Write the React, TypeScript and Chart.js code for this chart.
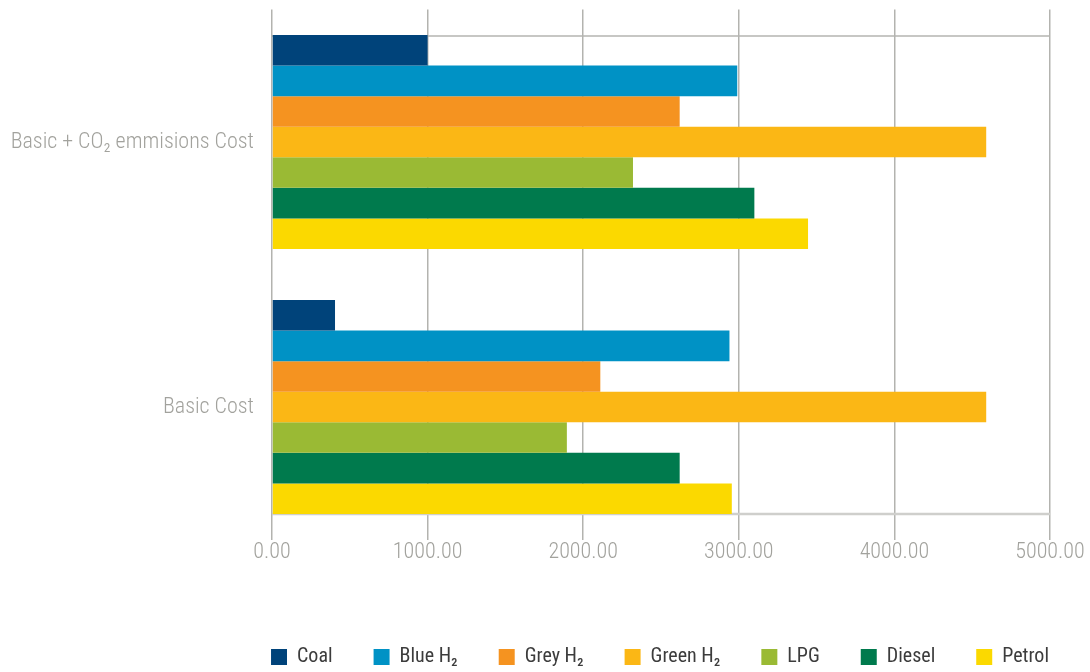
import React, { useEffect, useRef } from "react";
import { Chart, registerables } from "chart.js";

Chart.register(...registerables);

const categories = ["Basic + CO₂ emmisions Cost", "Basic Cost"];
const seriesNames = ["Coal", "Blue H₂", "Grey H₂", "Green H₂", "LPG", "Diesel", "Petrol"];
const coal = [1000, 405];
const blueH2 = [2990, 2940];
const greyH2 = [2620, 2110];
const greenH2 = [4590, 4590];
const lpg = [2320, 1895];
const diesel = [3100, 2620];
const petrol = [3445, 2955];
const seriesColors = ["#00437a", "#0092c5", "#f59320", "#fbb715", "#9aba34", "#007a4d", "#fbd900"];
const xTickValues = [0, 1000, 2000, 3000, 4000, 5000];

const FONT = "'Roboto Condensed', 'Liberation Sans Narrow', 'DejaVu Sans Condensed', sans-serif";

const edgeLines = {
  id: "edgeLines",
  beforeDatasetsDraw(chart: any) {
    const n = chart.data.datasets.length;
    const first = chart.getDatasetMeta(0).data[0];
    const last = chart.getDatasetMeta(n - 1).data[categories.length - 1];
    if (!first || !last) return;
    const { left, right } = chart.chartArea;
    const ctx = chart.ctx;
    const topY = first.y - first.height / 2;
    const botY = last.y + last.height / 2;
    ctx.save();
    ctx.strokeStyle = "#b4b4b0";
    ctx.lineWidth = 1.5;
    ctx.beginPath();
    ctx.moveTo(left, topY + 1);
    ctx.lineTo(right, topY + 1);
    ctx.stroke();
    ctx.strokeStyle = "#cfcfcc";
    ctx.lineWidth = 2.5;
    ctx.beginPath();
    ctx.moveTo(left, botY);
    ctx.lineTo(right, botY);
    ctx.stroke();
    ctx.restore();
  },
};

export default function App() {
  const ref = useRef<HTMLCanvasElement | null>(null);
  useEffect(() => {
    if (!ref.current) return;
    const data = [coal, blueH2, greyH2, greenH2, lpg, diesel, petrol];
    const chart = new Chart(ref.current, {
      type: "bar",
      data: {
        labels: categories,
        datasets: seriesNames.map((name, i) => ({
          label: name,
          data: data[i],
          backgroundColor: seriesColors[i],
          borderWidth: 0,
          barPercentage: 1,
          categoryPercentage: 0.8075,
        })),
      },
      plugins: [edgeLines],
      options: {
        indexAxis: "y",
        animation: false,
        responsive: true,
        maintainAspectRatio: false,
        layout: { padding: { top: 9.5, right: 0, left: 0, bottom: -5 } },
        plugins: {
          tooltip: { enabled: false },
          legend: {
            position: "bottom",
            fullSize: true,
            align: "end",
            labels: {
              boxWidth: 16,
              boxHeight: 16,
              padding: 41,
              color: "#3c3c3c",
              font: { family: FONT, size: 20 },
            },
          },
        },
        scales: {
          x: {
            type: "linear",
            min: 0,
            max: 5000,
            afterBuildTicks: (s: any) => {
              s.ticks = xTickValues.map((v) => ({ value: v }));
            },
            afterFit: (s: any) => {
              s.height = 66.5;
              s.paddingRight = 40;
              s.paddingLeft = 0;
            },
            ticks: {
              color: "#a2a29d",
              padding: 0,
              font: { family: FONT, size: 22, weight: "300" as any },
              callback: (v: any) => Number(v).toFixed(2),
            },
            grid: { color: "#b3b3af", lineWidth: 1.5, drawTicks: false },
            border: { display: false },
          },
          y: {
            type: "category",
            afterFit: (s: any) => {
              s.width = 272;
              s.paddingTop = 0;
              s.paddingBottom = 0;
            },
            ticks: {
              color: "#a2a29d",
              padding: 18,
              font: { family: FONT, size: 22, weight: "300" as any },
            },
            grid: { display: false, drawTicks: false },
            border: { display: false },
          },
        },
      },
    });
    return () => chart.destroy();
  }, []);
  return (
    <div style={{ position: "absolute", left: 0, top: 0, width: 1090, height: 672 }}>
      <canvas ref={ref} />
    </div>
  );
}
